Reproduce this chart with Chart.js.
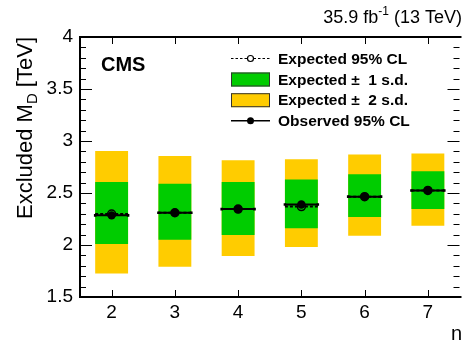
<!DOCTYPE html>
<html><head><meta charset="utf-8">
<script src="https://cdn.jsdelivr.net/npm/chart.js@4/dist/chart.umd.min.js"></script>
<style>html,body{margin:0;padding:0;background:#fff}#wrap{width:465px;height:345px;position:relative}</style>
</head><body><div id="wrap"><canvas id="c" width="465" height="345"></canvas></div>
<script>
const nValues=[2,3,4,5,6,7];
const observed=[2.285,2.31,2.345,2.39,2.465,2.525];
const expected=[2.298,2.31,2.345,2.37,2.465,2.525];
const sd1Low=[2.01,2.05,2.095,2.16,2.27,2.345];
const sd1High=[2.605,2.59,2.605,2.63,2.68,2.71];
const sd2Low=[1.725,1.79,1.895,1.98,2.09,2.185];
const sd2High=[2.905,2.855,2.815,2.825,2.87,2.88];
const yTicks=[1.5,2,2.5,3,3.5,4];
const xTicks=[2,3,4,5,6,7];
const legendLabels=['Expected 95% CL','Expected \u00b1  1 s.d.','Expected \u00b1  2 s.d.','Observed 95% CL'];

const HW=0.26;
const FONT='"Liberation Sans", Arial, Helvetica, sans-serif';
const GREEN='#00cc00', YELLOW='#ffcc00';

function segs(vals){
  const out=[];
  nValues.forEach((n,i)=>{out.push({x:n-HW,y:vals[i]},{x:n+HW,y:vals[i]},{x:n,y:null});});
  return out;
}
const pts=vals=>nValues.map((n,i)=>({x:n,y:vals[i]}));

const decor={
  id:'decor',
  afterDraw(chart){
    const ctx=chart.ctx, a=chart.chartArea, xs=chart.scales.x, ys=chart.scales.y;
    ctx.save();
    ctx.strokeStyle='#000';
    // ticks
    ctx.lineWidth=1;
    ctx.beginPath();
    const ymin=ys.min, ymax=ys.max;
    for(let k=0;k<=Math.round((ymax-ymin)*10);k++){
      const v=ymin+k*0.1;
      const y=Math.round(ys.getPixelForValue(v))+0.5;
      const major=(k%5===0);
      const L=major?12:6;
      ctx.moveTo(a.left,y);ctx.lineTo(a.left+L,y);
      ctx.moveTo(a.right,y);ctx.lineTo(a.right-L,y);
    }
    xTicks.forEach(v=>{
      const x=Math.round(xs.getPixelForValue(v))+0.5;
      ctx.moveTo(x,a.bottom);ctx.lineTo(x,a.bottom-7);
      ctx.moveTo(x,a.top);ctx.lineTo(x,a.top+7);
    });
    ctx.stroke();
    // frame (right side lies at the canvas edge)
    ctx.lineWidth=2;
    ctx.beginPath();
    ctx.moveTo(a.right+2,a.top);ctx.lineTo(a.left,a.top);ctx.lineTo(a.left,a.bottom);ctx.lineTo(a.right+2,a.bottom);
    ctx.stroke();

    ctx.fillStyle='#000';
    ctx.textBaseline='alphabetic';
    // top-right lumi text
    const f1='18px '+FONT, fs='12px '+FONT;
    const p1='35.9 fb', p2='-1', p3=' (13 TeV)';
    ctx.font=f1; const w1=ctx.measureText(p1).width, w3=ctx.measureText(p3).width;
    ctx.font=fs; const w2=ctx.measureText(p2).width;
    let x0=462-(w1+w2+w3);
    ctx.font=f1; ctx.textAlign='left'; ctx.fillText(p1,x0,23);
    ctx.font=fs; ctx.fillText(p2,x0+w1,15);
    ctx.font=f1; ctx.fillText(p3,x0+w1+w2,23);
    // CMS
    ctx.font='bold 20px '+FONT; ctx.fillText('CMS',101,71);
    // x title
    ctx.font='20px '+FONT; ctx.textAlign='right'; ctx.fillText('n',462,340);
    // y title
    ctx.save();
    ctx.translate(32,a.top);
    ctx.rotate(-Math.PI/2);
    ctx.textAlign='left';
    const t1='Excluded M', t2='D', t3=' [TeV]';
    const fT='22px '+FONT, fD='15px '+FONT;
    ctx.font=fT; const a1=ctx.measureText(t1).width, a3=ctx.measureText(t3).width;
    ctx.font=fD; const a2=ctx.measureText(t2).width;
    let s=-(a1+a2+a3);
    ctx.font=fT; ctx.fillText(t1,s,0);
    ctx.font=fD; ctx.fillText(t2,s+a1,5);
    ctx.font=fT; ctx.fillText(t3,s+a1+a2,0);
    ctx.restore();

    // legend
    const rows=[58.5,79.5,100.2,120.8];
    const sx0=231, sx1=270, tx=278;
    ctx.font='bold 15.5px '+FONT; ctx.textAlign='left'; ctx.textBaseline='middle';
    legendLabels.forEach((t,i)=>ctx.fillText(t,tx,rows[i]+1));
    // row 0: dashed line + open circle
    ctx.lineWidth=1.2; ctx.setLineDash([2.5,2]);
    ctx.beginPath();ctx.moveTo(sx0,rows[0]);ctx.lineTo(sx1,rows[0]);ctx.stroke();
    ctx.setLineDash([]);
    ctx.fillStyle='#fff';
    ctx.beginPath();ctx.arc((sx0+sx1)/2,rows[0],3,0,2*Math.PI);ctx.fill();ctx.stroke();
    // rows 1,2 boxes
    ctx.lineWidth=1; ctx.strokeStyle='#333';
    ctx.fillStyle=GREEN; ctx.fillRect(sx0,rows[1]-7,sx1-sx0,14); ctx.strokeRect(sx0+0.5,rows[1]-6.5,sx1-sx0-1,13);
    ctx.fillStyle=YELLOW; ctx.fillRect(sx0,rows[2]-7,sx1-sx0,14); ctx.strokeRect(sx0+0.5,rows[2]-6.5,sx1-sx0-1,13);
    // row 3: solid line + dot
    ctx.strokeStyle='#000'; ctx.lineWidth=1.5;
    ctx.beginPath();ctx.moveTo(sx0,rows[3]);ctx.lineTo(sx1,rows[3]);ctx.stroke();
    ctx.fillStyle='#000';
    ctx.beginPath();ctx.arc((sx0+sx1)/2,rows[3],3.5,0,2*Math.PI);ctx.fill();
    ctx.restore();
  }
};

new Chart(document.getElementById('c'),{
  type:'bar',
  data:{datasets:[
    {type:'scatter',data:pts(observed),pointStyle:'circle',pointRadius:4.2,pointBackgroundColor:'#000',pointBorderWidth:0,order:0},
    {type:'line',data:segs(observed),borderColor:'#000',borderWidth:2,spanGaps:false,pointStyle:'rect',pointRadius:1.8,pointBackgroundColor:'#000',pointBorderWidth:0,order:1},
    {type:'scatter',data:pts(expected),pointStyle:'circle',pointRadius:4,pointBackgroundColor:'rgba(0,0,0,0)',pointBorderColor:'#000',pointBorderWidth:1.5,order:2},
    {type:'line',data:segs(expected),borderColor:'#000',borderWidth:2,borderDash:[3,2],spanGaps:false,pointRadius:0,order:3},
    {type:'bar',data:nValues.map((n,i)=>({x:n,y:[sd1Low[i],sd1High[i]]})),backgroundColor:GREEN,borderWidth:0,grouped:false,barPercentage:0.52,categoryPercentage:1,order:4},
    {type:'bar',data:nValues.map((n,i)=>({x:n,y:[sd2Low[i],sd2High[i]]})),backgroundColor:YELLOW,borderWidth:0,grouped:false,barPercentage:0.52,categoryPercentage:1,order:5}
  ]},
  options:{
    responsive:false,animation:false,devicePixelRatio:1,
    layout:{padding:{top:37,right:0,left:0,bottom:0}},
    plugins:{legend:{display:false},tooltip:{enabled:false}},
    scales:{
      x:{type:'linear',min:1.5,max:7.5,offset:false,stacked:false,
        grid:{display:false,drawTicks:false},border:{display:false},
        afterBuildTicks:s=>{s.ticks=xTicks.map(v=>({value:v}));},
        afterFit:s=>{s.height=48;},
        ticks:{color:'#000',font:{family:FONT,size:19},padding:4,maxRotation:0,callback:v=>String(v)}},
      y:{type:'linear',min:1.5,max:4,stacked:false,
        grid:{display:false,drawTicks:false},border:{display:false},
        afterBuildTicks:s=>{s.ticks=yTicks.map(v=>({value:v}));},
        afterFit:s=>{s.width=80;},
        ticks:{color:'#000',font:{family:FONT,size:19},padding:7,callback:v=>String(v)}}
    }
  },
  plugins:[decor]
});
</script></body></html>
